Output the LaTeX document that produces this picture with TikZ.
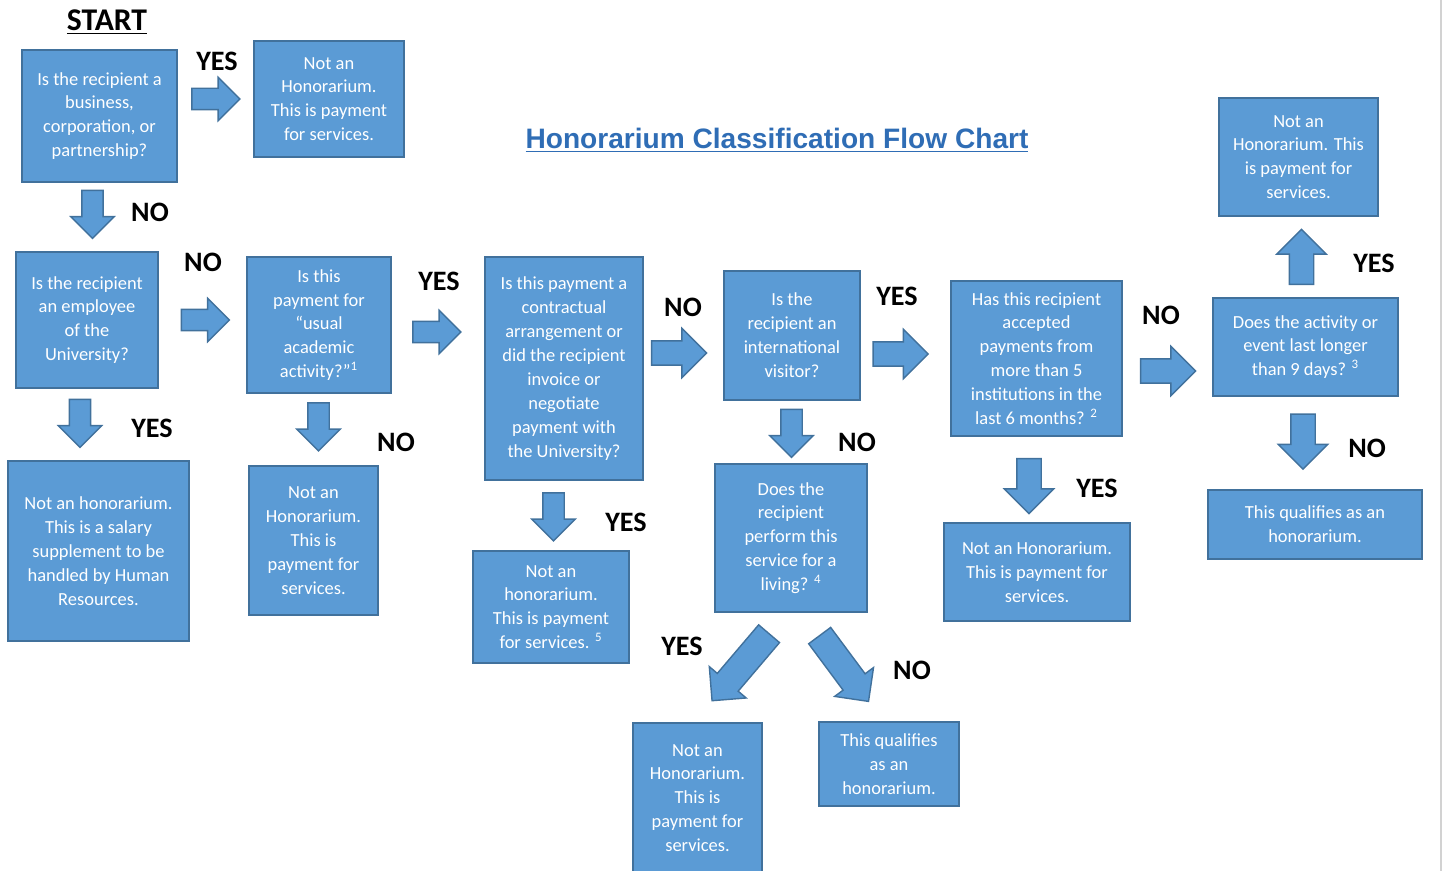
\documentclass[tikz,border=0pt]{standalone}
\usepackage{fontspec}
\setmainfont{Carlito}
\newfontfamily\titlefont{Liberation Sans}
\usetikzlibrary{shapes.arrows}
\definecolor{boxblue}{HTML}{5B9BD5}
\definecolor{boxline}{HTML}{41719C}
\definecolor{titleblue}{HTML}{2F6DB5}

\begin{document}
\begin{tikzpicture}[x=0.02cm, y=-0.02cm,
  box/.style={draw=boxline, line width=0.9pt, fill=boxblue, text=white, align=center,
    inner sep=0pt, font=\fontsize{10.5}{13.6}\selectfont},
  barrow/.style={single arrow, draw=boxline, line width=0.8pt, fill=boxblue, inner sep=0.2cm,
    single arrow head extend=0.22cm, minimum height=0.96cm},
  bigarrow/.style={barrow, inner sep=0.23cm, single arrow head extend=0.25cm, minimum height=1.1cm},
  diagarrow/.style={barrow, inner sep=0.26cm, single arrow head extend=0.21cm},
  answer/.style={font=\fontsize{16}{18}\selectfont\bfseries}]
  \useasboundingbox (0,0) rectangle (1444,871);
  \draw [gray!35, line width=1pt] (1441,0) -- (1441,871);

  \node [font=\fontsize{18}{20}\selectfont\bfseries] (start) at (107,22) {\underline{START}};
  \node [font=\titlefont\fontsize{16}{18}\selectfont\bfseries, text=titleblue] (title) at (777,140)
    {\underline{Honorarium Classification Flow Chart}};

  \node [box, minimum width=3.10cm, minimum height=2.64cm] (q1) at (99.5,116)
    {Is the recipient a\\business,\\corporation, or\\partnership?};
  \node [box, minimum width=3.00cm, minimum height=2.32cm] (r1) at (329,99)
    {Not an\\Honorarium.\\This is payment\\for services.};
  \node [box, minimum width=2.84cm, minimum height=2.72cm] (q2) at (87,320)
    {Is the recipient\\an employee\\of the\\University?};
  \node [box, minimum width=3.62cm, minimum height=3.60cm] (r2) at (98.5,551)
    {Not an honorarium.\\This is a salary\\supplement to be\\handled by Human\\Resources.};
  \node [box, minimum width=2.88cm, minimum height=2.72cm] (q3) at (319,325)
    {Is this\\payment for\\“usual\\academic\\activity?”\textsuperscript{1}};
  \node [box, minimum width=2.58cm, minimum height=2.98cm] (r3) at (313.5,540.5)
    {Not an\\Honorarium.\\This is\\payment for\\services.};
  \node [box, minimum width=3.16cm, minimum height=4.46cm] (q4) at (564,368.5)
    {Is this payment a\\contractual\\arrangement or\\did the recipient\\invoice or\\negotiate\\payment with\\the University?};
  \node [box, minimum width=3.12cm, minimum height=2.24cm] (r4) at (551,607)
    {Not an\\honorarium.\\This is payment\\for services. \textsuperscript{5}};
  \node [box, minimum width=2.72cm, minimum height=2.58cm] (q5) at (792,335.5)
    {Is the\\recipient an\\international\\visitor?};
  \node [box, minimum width=3.04cm, minimum height=2.96cm] (q6) at (791,538)
    {Does the\\recipient\\perform this\\service for a\\living? \textsuperscript{4}};
  \node [box, minimum width=2.58cm, minimum height=3.00cm] (r6a) at (697.5,798)
    {Not an\\Honorarium.\\This is\\payment for\\services.};
  \node [box, minimum width=2.80cm, minimum height=1.68cm] (r6b) at (889,764)
    {This qualifies\\as an\\honorarium.};
  \node [box, minimum width=3.42cm, minimum height=3.10cm] (q7) at (1036.5,358.5)
    {Has this recipient\\accepted\\payments from\\more than 5\\institutions in the\\last 6 months? \textsuperscript{2}};
  \node [box, minimum width=3.72cm, minimum height=1.96cm] (r7) at (1037,572)
    {Not an Honorarium.\\This is payment for\\services.};
  \node [box, minimum width=3.70cm, minimum height=1.96cm] (q8) at (1305.5,347)
    {Does the activity or\\event last longer\\than 9 days? \textsuperscript{3}};
  \node [box, minimum width=3.18cm, minimum height=2.36cm] (r8a) at (1298.5,157)
    {Not an\\Honorarium. This\\is payment for\\services.};
  \node [box, minimum width=4.28cm, minimum height=1.38cm] (r8b) at (1315,524.5)
    {This qualifies as an\\honorarium.};

  \node [barrow] (a1) at (210.5,99) {};
  \node [barrow, rotate=-90] (a2) at (92.5,209) {};
  \node [barrow] (a3) at (200,320) {};
  \node [barrow, rotate=-90] (a4) at (80,418) {};
  \node [barrow] (a5) at (431.5,332) {};
  \node [barrow, rotate=-90] (a6) at (318.5,421.5) {};
  \node [barrow, rotate=-90] (a7) at (553.5,511.5) {};
  \node [bigarrow] (a8) at (673,353) {};
  \node [bigarrow] (a9) at (894.5,354) {};
  \node [barrow, rotate=-90] (a10) at (791.5,428) {};
  \node [diagarrow, minimum height=1.76cm, rotate=229.6] (a11) at (745,662) {};
  \node [diagarrow, minimum height=1.64cm, rotate=-53.4] (a12) at (840,663) {};
  \node [bigarrow, rotate=-90] (a13) at (1029,480) {};
  \node [bigarrow] (a14) at (1162,371) {};
  \node [bigarrow, rotate=90] (a15) at (1301.5,263) {};
  \node [bigarrow, rotate=-90] (a16) at (1303,435.5) {};

  \node [answer] (l1) at (217,61) {YES};
  \node [answer] (l2) at (150,212) {NO};
  \node [answer] (l3) at (203,262) {NO};
  \node [answer] (l4) at (152,428) {YES};
  \node [answer] (l5) at (439,281) {YES};
  \node [answer] (l6) at (396,442) {NO};
  \node [answer] (l7) at (626,522) {YES};
  \node [answer] (l8) at (683,307) {NO};
  \node [answer] (l9) at (897,296) {YES};
  \node [answer] (l10) at (857,442) {NO};
  \node [answer] (l11) at (682,646) {YES};
  \node [answer] (l12) at (912,670) {NO};
  \node [answer] (l13) at (1097,488) {YES};
  \node [answer] (l14) at (1161,315) {NO};
  \node [answer] (l15) at (1374,263) {YES};
  \node [answer] (l16) at (1367,448) {NO};
\end{tikzpicture}
\end{document}
